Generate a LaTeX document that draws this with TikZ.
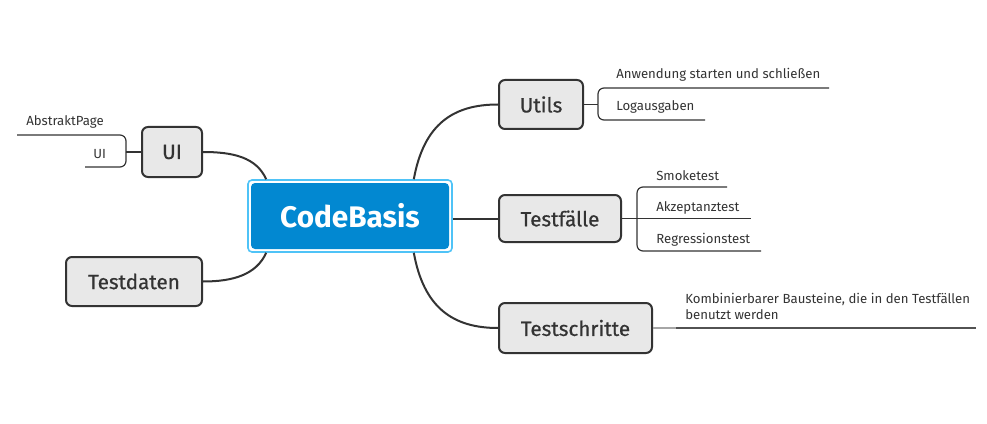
\documentclass[tikz,border=0pt]{standalone}
\usepackage{fontspec}
\setmainfont{Fira Sans}
\usetikzlibrary{calc}
\definecolor{cbblue}{HTML}{0288D1}
\definecolor{cbline}{HTML}{4FC3F7}
\definecolor{topicfill}{HTML}{E8E8E8}
\definecolor{dark}{HTML}{333333}
\begin{document}
\begin{tikzpicture}[x=0.75pt,y=-0.75pt,
  topic/.style={draw=dark,line width=1.5pt,fill=topicfill,rounded corners=4.5pt,
    font=\fontsize{15.5}{18}\selectfont\addfontfeatures{FakeBold=0.6},text=dark,inner sep=0pt},
  sub/.style={font=\fontsize{9.9}{12}\selectfont,text=dark,inner sep=0pt,anchor=base west},
  conn/.style={draw=dark,line width=1.5pt},
  subline/.style={draw=dark,line width=0.9pt,rounded corners=4.5pt}]
\useasboundingbox (0,0) rectangle (987,424);
% central
\node[draw=cbline,line width=1.2pt,rounded corners=3pt,minimum width=153pt,minimum height=54pt,inner sep=0pt] (cbo) at (350,216) {};
\node[fill=cbblue,rounded corners=3pt,minimum width=148.5pt,minimum height=49.5pt,inner sep=0pt,
  text=white,font=\fontsize{22.3}{26}\selectfont\bfseries] (cb) at (350,216) {CodeBasis};
% topics
\node[topic,minimum width=63pt,minimum height=36.75pt] (utils) at (541,104.5) {Utils};
\node[topic,minimum width=91.5pt,minimum height=35.25pt] (tf) at (560,218.5) {Testfälle};
\node[topic,minimum width=114.75pt,minimum height=37.5pt] (ts) at (575.5,328) {Testschritte};
\node[topic,minimum width=45pt,minimum height=37.5pt] (ui) at (172,152) {UI};
\node[topic,minimum width=102pt,minimum height=36.75pt] (td) at (134,281.5) {Testdaten};
% connectors
\coordinate (cbne) at ($(cbo.north east)+(-39,0)$);
\coordinate (cbse) at ($(cbo.south east)+(-39,0)$);
\coordinate (cbnw) at ($(cbo.north west)+(19,0)$);
\coordinate (cbsw) at ($(cbo.south west)+(19,0)$);
\draw[conn] (cbne) .. controls +(10,-55) and +(-45,0) .. (utils.west);
\draw[conn] (cbse) .. controls +(10,55) and +(-45,0) .. (ts.west);
\draw[conn] (cbo.east|-tf.west) -- (tf.west);
\draw[conn] (cbnw) .. controls +(-10,-22) and +(30,0) .. (ui.east);
\draw[conn] (cbsw) .. controls +(-10,22) and +(30,0) .. (td.east);
% Utils subtopics
\coordinate (ub) at ($(utils.east)+(14,0)$);
\coordinate (u1) at (829,88);
\coordinate (u2) at (705,120);
\draw[subline] (utils.east) -- (ub);
\draw[subline] (ub) |- (u1);
\draw[subline] (ub) |- (u2);
\node[sub] (t1) at (616,79) {Anwendung starten und schließen};
\node[sub] (t2) at (616,111) {Logausgaben};
% Testfaelle subtopics
\coordinate (tb) at ($(tf.east)+(15,0)$);
\coordinate (s1) at (727,187);
\coordinate (s2) at (751,218.5);
\coordinate (s3) at (761,251);
\draw[subline] (tf.east) -- (tb);
\draw[subline] (tb) |- (s1);
\draw[subline] (tb) |- (s3);
\draw[subline] (tb) -- (s2);
\node[sub] (t3) at (656,180) {Smoketest};
\node[sub] (t4) at (656,211) {Akzeptanztest};
\node[sub] (t5) at (656,243) {Regressionstest};
% Testschritte subtopic
\coordinate (sg) at (676,328);
\coordinate (se) at (976,328);
\draw[draw=gray!70,line width=1.2pt] (ts.east) -- (sg);
\draw[draw=dark!85,line width=1.5pt] (sg) -- (se);
\node[sub,anchor=north west,align=left,font=\fontsize{9.9}{12}\selectfont] (t6) at (685,293) {Kombinierbarer Bausteine, die in den Testfällen\\benutzt werden};
% UI subtopics
\coordinate (ib) at ($(ui.west)+(-15,0)$);
\coordinate (i1) at (17,135);
\coordinate (i2) at (85,167);
\draw[subline] (ui.west) -- (ib);
\draw[subline] (ib) |- (i1);
\draw[subline] (ib) |- (i2);
\node[sub] (t7) at (26,126) {AbstraktPage};
\node[sub] (t8) at (93,158) {UI};
\end{tikzpicture}
\end{document}
